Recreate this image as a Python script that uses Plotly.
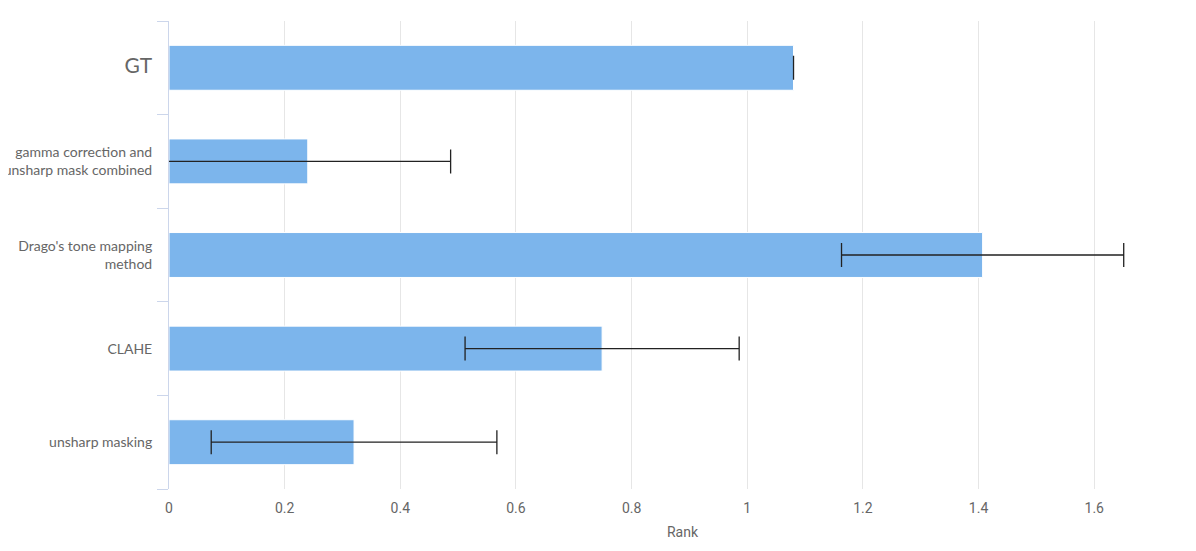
import plotly.graph_objects as go

categories = ["GT", "gamma correction and<br>unsharp mask combined",
              "Drago's tone mapping<br>method", "CLAHE", "unsharp masking"]
tick_labels = ["<span style='font-size:21px'>GT</span>",
               "gamma correction and<br>unsharp mask combined",
               "Drago's tone mapping<br>method", "CLAHE", "unsharp masking"]
rank_values = [1.08, 0.24, 1.407, 0.749, 0.32]
rank_errors = [0.0, 0.247, 0.244, 0.237, 0.247]
x_ticks = [0, 0.2, 0.4, 0.6, 0.8, 1, 1.2, 1.4, 1.6, 1.8]
x_max = 1.776

fig = go.Figure()
fig.add_trace(go.Bar(
    y=categories, x=rank_values, orientation="h",
    marker=dict(color="#7cb5ec", line=dict(color="#ffffff", width=1)),
    error_x=dict(type="data", array=rank_errors, visible=True,
                 color="#222222", thickness=1.3, width=12),
    cliponaxis=True,
))

fig.update_layout(
    width=1188, height=543,
    margin=dict(l=161, r=0, t=13, b=62, autoexpand=False),
    plot_bgcolor="#ffffff", paper_bgcolor="#ffffff",
    bargap=0.52, showlegend=False,
    font=dict(family="Roboto", color="#666666", size=14),
)
fig.update_xaxes(
    range=[0, x_max], tickvals=x_ticks, ticktext=[str(t) for t in x_ticks],
    showgrid=True, gridcolor="#e6e6e6", gridwidth=1, zeroline=False,
    showline=False, ticks="", ticklabelstandoff=9, automargin=False,
    tickfont=dict(family="Roboto", size=14, color="#666666"),
    title=dict(text="Rank", font=dict(family="Roboto", size=14, color="#666666"), standoff=12),
)
fig.update_yaxes(
    categoryorder="array", categoryarray=categories, autorange="reversed",
    tickvals=categories, ticktext=tick_labels,
    showline=True, linecolor="#ccd6eb", linewidth=1,
    ticks="outside", tickson="boundaries", ticklen=11, tickcolor="#ccd6eb",
    ticklabelstandoff=13, automargin=False,
    showgrid=False, tickfont=dict(family="Lato", size=14, color="#666666"),
)
# partially visible last tick label beyond the right edge
fig.add_annotation(text=str(x_ticks[-1]), x=x_ticks[-1] / x_max, xref="paper",
                   y=0, yref="paper", yanchor="top", yshift=-11, showarrow=False,
                   font=dict(family="Roboto", size=14, color="#666666"))

fig.write_html("out.html")
